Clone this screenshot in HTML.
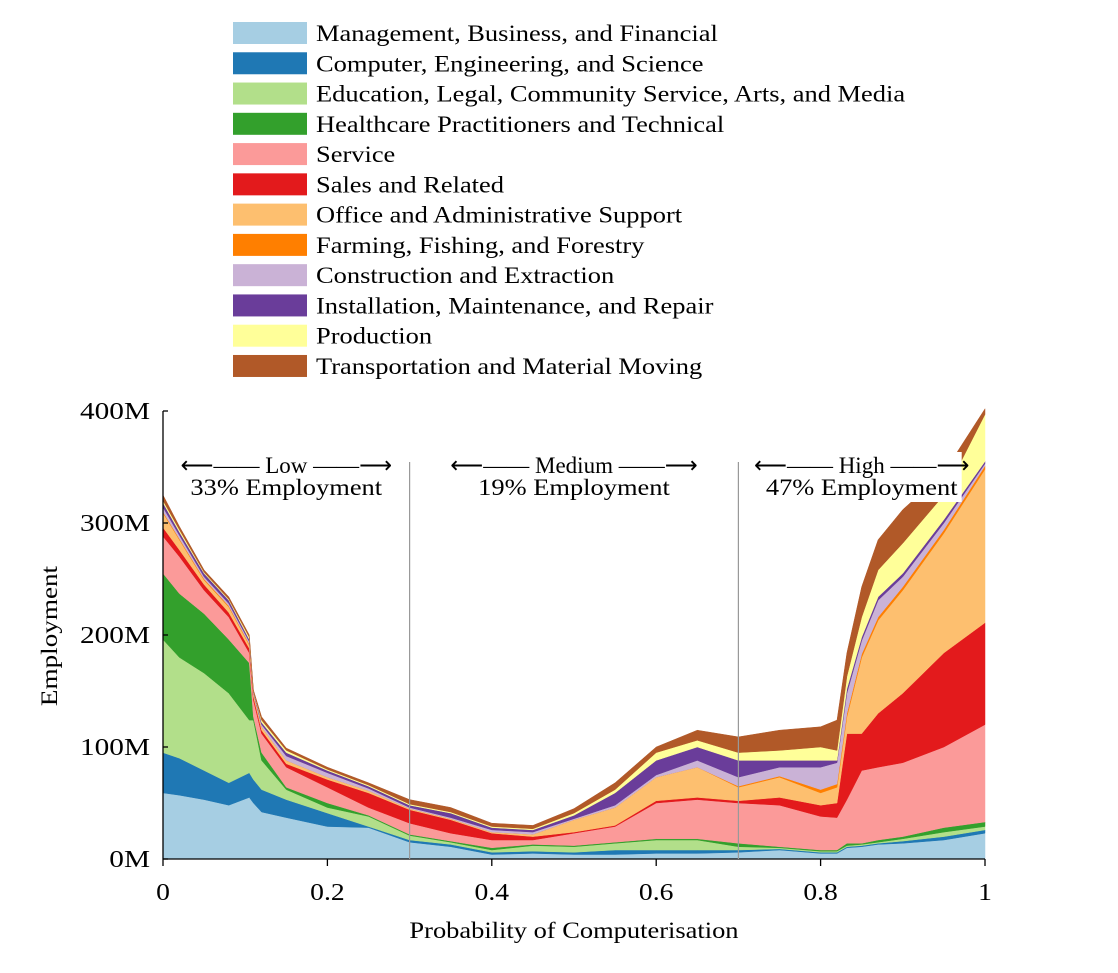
<!DOCTYPE html>
<html><head><meta charset="utf-8"><style>
body{margin:0;background:#fff;}
svg text{font-family:"Liberation Serif",serif;fill:#000;}
</style></head><body>
<svg id="chart" width="1118" height="968" viewBox="0 0 1118 968" xmlns="http://www.w3.org/2000/svg">
<g id="legend"></g>
<g id="areas"></g>
<g id="axes"></g>
<g id="annot"></g>
</svg>
<script>
const seriesNames = ["Management, Business, and Financial","Computer, Engineering, and Science","Education, Legal, Community Service, Arts, and Media","Healthcare Practitioners and Technical","Service","Sales and Related","Office and Administrative Support","Farming, Fishing, and Forestry","Construction and Extraction","Installation, Maintenance, and Repair","Production","Transportation and Material Moving"];
const seriesColors = ["#a6cee3","#1f78b4","#b2df8a","#33a02c","#fb9a99","#e31a1c","#fdbf6f","#ff7f00","#cab2d6","#6a3d9a","#ffff99","#b15928"];
const xValues = [0,0.02,0.05,0.08,0.105,0.11,0.12,0.15,0.2,0.25,0.3,0.35,0.4,0.45,0.5,0.55,0.6,0.65,0.7,0.75,0.8,0.82,0.832,0.85,0.87,0.9,0.95,1.0];
const mgmt    = [59,57,53,48,55,50,42,37,29,28,15,11,4,5,4,4,5,5,6,8,5,5,10,11,13,14,17,23];
const comp    = [36,33,26,20,22,21,20,16,12,1,2,2,2,2,2,4,3,3,2,1,1,1,1,1,1,2,3,3];
const edu     = [101,90,87,80,47,53,26,9,5,9,4,2,2,5,5,6,9,9,3,1,1,1,1,1,1,2,4,3];
const health  = [59,57,53,48,51,3,7,2,4,1,1,1,2,1,1,1,1,1,3,1,1,1,2,1,2,2,4,4];
const service = [33,33,21,20,9,15,17,18,14,7,10,7,7,4,11,14,32,35,36,37,30,29,39,65,65,66,72,87];
const sales   = [8,6,5,4,4,3,3,3,7,13,12,12,6,3,1,1,2,2,2,7,10,13,59,33,48,62,84,91];
const office  = [13,9,4,5,3,3,3,3,2,2,1,1,1,2,11,16,21,27,12,18,11,14,15,68,83,92,107,137];
const farming = [1,1,1,1,1,0,0,0,0,0,0,0,0,0,0,0,0,0,1,1,3,3,3,3,3,3,3,3];
const constr  = [4,3,2,2,2,1,2,4,4,2,1,1,2,2,1,2,2,6,8,8,20,19,18,12,15,9,6,2];
const install = [4,3,3,3,2,1,2,3,2,2,2,4,2,2,3,11,13,12,15,6,6,2,4,3,3,3,3,2];
const production = [2,2,1,1,2,0,2,2,1,1,1,1,1,1,2,3,7,6,7,9,12,9,11,18,24,27,22,42];
const transport  = [5,3,2,2,2,1,3,2,2,2,4,4,3,3,4,6,5,9,14,18,18,27,21,27,27,30,20,5];
const series = [mgmt,comp,edu,health,service,sales,office,farming,constr,install,production,transport];
const yTicks = [0,100,200,300,400];
const yTickLabels = ["0M","100M","200M","300M","400M"];
const xTicks = [0,0.2,0.4,0.6,0.8,1];
const xTickLabels = ["0","0.2","0.4","0.6","0.8","1"];
const regionNames = ["Low","Medium","High"];
const regionShares = ["33% Employment","19% Employment","47% Employment"];
const regionCenters = [0.15,0.5,0.85];
const dividers = [0.3,0.7];

const NS="http://www.w3.org/2000/svg";
const X0=163,X1=985,Y0=859,Y1=411;
const xs=v=>X0+(X1-X0)*v;
const ys=v=>Y0-(Y0-Y1)*v/400;
const stretch=[];
function mk(tag,attrs,parent,text){const e=document.createElementNS(NS,tag);for(const k in attrs)e.setAttribute(k,attrs[k]);if(text!==undefined)e.textContent=text;parent.appendChild(e);return e;}

// legend
const lg=document.getElementById('legend');
seriesNames.forEach((n,i)=>{
  const cy=33+i*30.27;
  const r=mk('rect',{x:233,y:cy-11,width:74,height:22,fill:seriesColors[i]},lg);
  
  
  const t=mk('text',{x:316,y:cy+8,'font-size':23},lg,n);
  
  
  stretch.push([t,1.15]);
});

// areas
const ag=document.getElementById('areas');
let base=xValues.map(()=>0);
series.forEach((s,i)=>{
  const top=base.map((b,j)=>b+s[j]);
  let d='M'+xValues.map((x,j)=>xs(x).toFixed(1)+','+ys(top[j]).toFixed(1)).join('L');
  for(let j=xValues.length-1;j>=0;j--)d+='L'+xs(xValues[j]).toFixed(1)+','+ys(base[j]).toFixed(1);
  d+='Z';
  const p=mk('path',{d:d,fill:seriesColors[i],stroke:seriesColors[i],'stroke-width':0.5},ag);
  
  
  base=top;
});

// axes
const ax=document.getElementById('axes');
const yl=mk('line',{x1:X0,y1:Y1,x2:X0,y2:Y0,stroke:'#000','stroke-width':1.3},ax);


const xl=mk('line',{x1:X0,y1:Y0,x2:X1,y2:Y0,stroke:'#000','stroke-width':1.3},ax);


yTicks.forEach((v,i)=>{
  mk('line',{x1:X0,y1:ys(v),x2:X0+5,y2:ys(v),stroke:'#000','stroke-width':1.3},ax);
  const t=mk('text',{x:150,y:ys(v)+8,'font-size':24,'text-anchor':'end'},ax,yTickLabels[i]);
  
  
  stretch.push([t,1.22]);
});
xTicks.forEach((v,i)=>{
  mk('line',{x1:xs(v),y1:Y0,x2:xs(v),y2:Y0+7,stroke:'#000','stroke-width':1.3},ax);
  const t=mk('text',{x:xs(v),y:900,'font-size':24,'text-anchor':'middle'},ax,xTickLabels[i]);
  
  
  stretch.push([t,1.15]);
});
const xt=mk('text',{x:574,y:938,'font-size':23,'text-anchor':'middle'},ax,'Probability of Computerisation');


stretch.push([xt,1.15]);
const yt=mk('text',{x:0,y:0,'font-size':23,'text-anchor':'middle',transform:'translate(57,636) rotate(-90)'},ax,'Employment');


stretch.push([yt,1.18]);

// annotations
const an=document.getElementById('annot');
dividers.forEach(v=>{
  const l=mk('line',{x1:xs(v),y1:462,x2:xs(v),y2:Y0,stroke:'#999','stroke-width':1.2},an);
  
  
});
regionNames.forEach((n,i)=>{
  const cx=xs(regionCenters[i]);
  mk('rect',{x:cx-100,y:452,width:200,height:50,fill:'#fff'},an);
  const t1=mk('text',{x:cx,y:473,'font-size':23,'text-anchor':'middle'},an,'⟵—— '+n+' ——⟶');
  
  
  const t2=mk('text',{x:cx,y:495,'font-size':23,'text-anchor':'middle'},an,regionShares[i]);
  
  
  stretch.push([t2,1.15]);
});

stretch.forEach(([t,f])=>{
  const w=t.getComputedTextLength();
  t.setAttribute('textLength',(w*f).toFixed(1));
  t.setAttribute('lengthAdjust','spacingAndGlyphs');
});
</script>
</body></html>
